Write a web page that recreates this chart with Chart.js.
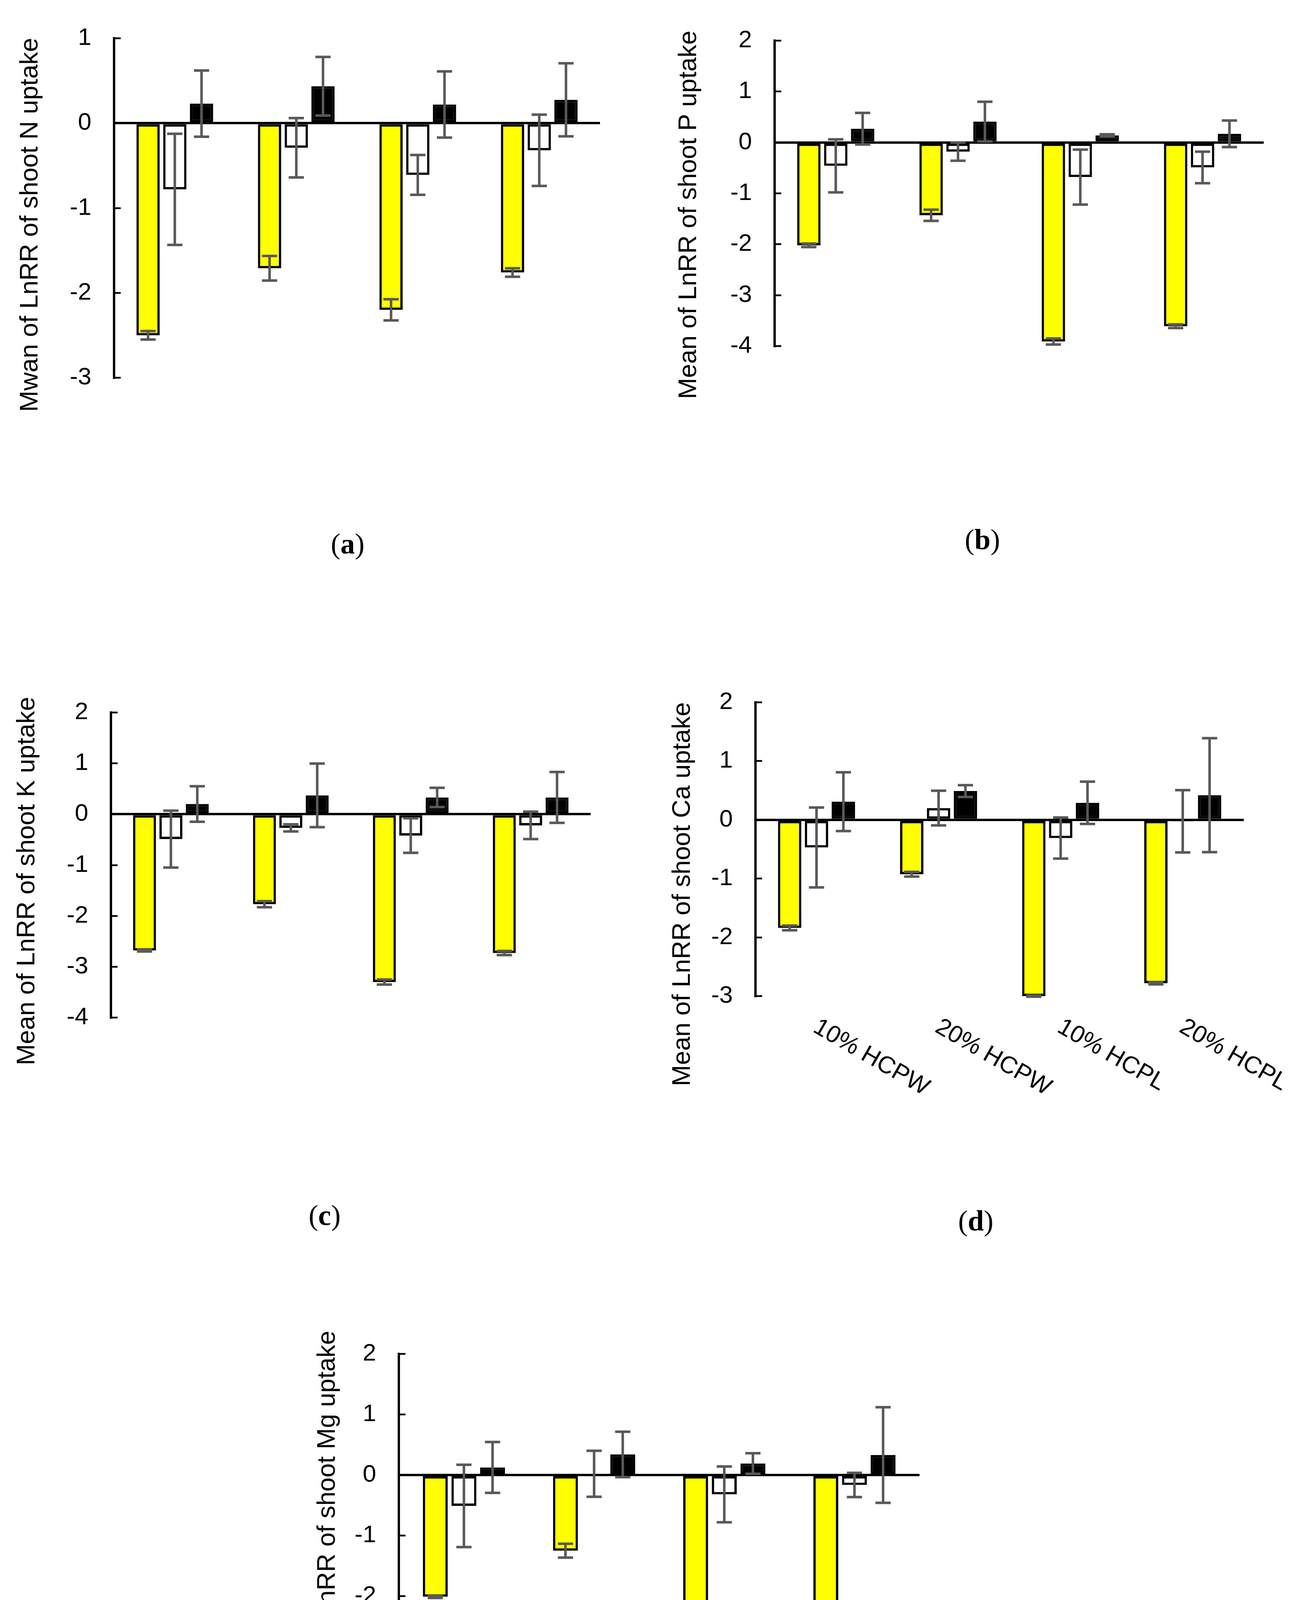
<!DOCTYPE html>
<html>
<head>
<meta charset="utf-8">
<title>Mean LnRR of shoot nutrient uptake</title>
<script src="https://cdn.jsdelivr.net/npm/chart.js@4.4.1/dist/chart.umd.min.js"></script>
<style>
  html, body { margin: 0; padding: 0; background: #fff; }
  body { position: relative; width: 3351px; height: 4904px; overflow: hidden;
         font-family: 'Liberation Sans', Arial, sans-serif; color: #000; }
  canvas { position: absolute; }
  .cap { position: absolute; font-family: 'Liberation Serif', 'Times New Roman', serif;
         font-size: 74px; line-height: 1; transform: translate(-50%, -50%); }
  #legend { position: absolute; left: 907px; top: 4848px; transform: translateY(-50%);
            display: flex; align-items: center; font-size: 65px; line-height: 1; white-space: nowrap; }
  #legend .item { display: flex; align-items: center; margin-right: 80px; }
  #legend .box { width: 40px; height: 40px; box-sizing: border-box; border: 6px solid #000; margin-right: 14px; }
</style>
</head>
<body>

<canvas id="panelA" width="1544" height="1089" style="left:12px;top:28px;width:1544px;height:1089px"></canvas>
<canvas id="panelB" width="1552" height="1002" style="left:1703px;top:34px;width:1552px;height:1002px"></canvas>
<canvas id="panelC" width="1528" height="1001" style="left:4px;top:1754px;width:1528px;height:1001px"></canvas>
<canvas id="panelD" width="1690" height="1122" style="left:1654px;top:1728px;width:1690px;height:1122px"></canvas>
<canvas id="panelE" width="1773" height="1145" style="left:741px;top:3396px;width:1773px;height:1145px"></canvas>

<div class="cap" style="left:890px;top:1392px">(<b>a</b>)</div>
<div class="cap" style="left:2515px;top:1381px">(<b>b</b>)</div>
<div class="cap" style="left:831px;top:3111px">(<b>c</b>)</div>
<div class="cap" style="left:2498px;top:3125px">(<b>d</b>)</div>
<div class="cap" style="left:1737px;top:4727px">(<b>e</b>)</div>

<div id="legend"></div>

<script>
// Categories and series
const categories = ['10% HCPW', '20% HCPW', '10% HCPL', '20% HCPL'];
const seriesLabels = ['No fertilizer', '50% fertilizer', '100% fertilizer'];
const seriesFill = ['#FFFF00', '#FFFFFF', '#000000'];

// (a) N uptake
const nNoFert = [-2.50, -1.71, -2.20, -1.76];
const nHalfFert = [-0.78, -0.29, -0.61, -0.32];
const nFullFert = [0.23, 0.435, 0.22, 0.275];
const nNoFertErr = [0.05, 0.145, 0.125, 0.05];
const nHalfFertErr = [0.655, 0.35, 0.235, 0.42];
const nFullFertErr = [0.39, 0.345, 0.39, 0.43];

// (b) P uptake
const pNoFert = [-2.02, -1.43, -3.91, -3.61];
const pHalfFert = [-0.46, -0.18, -0.68, -0.49];
const pFullFert = [0.27, 0.41, 0.14, 0.17];
const pNoFertErr = [0.035, 0.11, 0.06, 0.035];
const pHalfFertErr = [0.52, 0.18, 0.54, 0.31];
const pFullFertErr = [0.31, 0.39, 0.02, 0.26];

// (c) K uptake
const kNoFert = [-2.68, -1.77, -3.30, -2.73];
const kHalfFert = [-0.49, -0.27, -0.42, -0.22];
const kFullFert = [0.20, 0.37, 0.33, 0.33];
const kNoFertErr = [0.02, 0.06, 0.05, 0.04];
const kHalfFertErr = [0.56, 0.07, 0.34, 0.27];
const kFullFertErr = [0.35, 0.625, 0.19, 0.50];

// (d) Ca uptake
const caNoFert = [-1.84, -0.925, -3.00, -2.78];
const caHalfFert = [-0.47, 0.20, -0.31, -0.025];
const caFullFert = [0.31, 0.49, 0.29, 0.42];
const caNoFertErr = [0.04, 0.04, 0.01, 0.02];
const caHalfFertErr = [0.68, 0.295, 0.35, 0.53];
const caFullFertErr = [0.50, 0.10, 0.36, 0.97];

// (e) Mg uptake
const mgNoFert = [-2.01, -1.25, -3.00, -2.82];
const mgHalfFert = [-0.51, 0.02, -0.32, -0.165];
const mgFullFert = [0.125, 0.34, 0.19, 0.33];
const mgNoFertErr = [0.02, 0.115, 0.01, 0.02];
const mgHalfFertErr = [0.68, 0.38, 0.46, 0.20];
const mgFullFertErr = [0.42, 0.375, 0.17, 0.79];

const FONT = "'Liberation Sans', Arial, sans-serif";
Chart.defaults.font.family = FONT;
Chart.defaults.color = '#000';

// rotated y-axis title, placed relative to the chart area
const yTitlePlugin = {
  id: 'yTitle',
  afterDraw(chart, args, opts) {
    const { ctx, chartArea } = chart;
    ctx.save();
    ctx.translate(chartArea.left - opts.dx, (chartArea.top + chartArea.bottom) / 2 + opts.dy);
    ctx.rotate(-Math.PI / 2);
    ctx.font = '65px ' + FONT;
    ctx.fillStyle = '#000';
    ctx.textAlign = 'center';
    ctx.textBaseline = 'middle';
    ctx.fillText(opts.text, 0, 0);
    ctx.restore();
  }
};

// +/- error bars with caps
const errorBarPlugin = {
  id: 'errorBars',
  afterDatasetsDraw(chart) {
    const { ctx } = chart;
    const y = chart.scales.y;
    ctx.save();
    ctx.strokeStyle = '#595959';
    ctx.lineWidth = 6.5;
    chart.data.datasets.forEach((ds, i) => {
      chart.getDatasetMeta(i).data.forEach((bar, j) => {
        const v = ds.data[j], e = ds.errors[j];
        const yTop = y.getPixelForValue(v + e);
        const yBot = y.getPixelForValue(v - e);
        const half = 19.5;
        ctx.beginPath();
        ctx.moveTo(bar.x, yTop); ctx.lineTo(bar.x, yBot);
        ctx.moveTo(bar.x - half, yTop); ctx.lineTo(bar.x + half, yTop);
        ctx.moveTo(bar.x - half, yBot); ctx.lineTo(bar.x + half, yBot);
        ctx.stroke();
      });
    });
    ctx.restore();
  }
};

// category labels below the plot, slanted down to the right
const slantLabelPlugin = {
  id: 'slantLabels',
  afterDraw(chart, args, opts) {
    if (!opts.show) return;
    const { ctx, chartArea } = chart;
    const x = chart.scales.x;
    ctx.save();
    ctx.font = '62px ' + FONT;
    ctx.fillStyle = '#000';
    ctx.textAlign = 'left';
    ctx.textBaseline = 'top';
    chart.data.labels.forEach((lab, i) => {
      ctx.save();
      ctx.translate(x.getPixelForValue(i) + 12, chartArea.bottom + 48);
      ctx.rotate(Math.PI / 6);
      ctx.fillText(lab, 0, 0);
      ctx.restore();
    });
    ctx.restore();
  }
};

function buildPanel(id, cfg) {
  const datasets = seriesLabels.map((label, k) => ({
    label,
    data: cfg.values[k],
    errors: cfg.errors[k],
    backgroundColor: seriesFill[k],
    borderColor: '#000',
    borderWidth: 6,
    borderSkipped: false,
    categoryPercentage: 0.66,
    barPercentage: 0.87
  }));
  return new Chart(document.getElementById(id), {
    type: 'bar',
    data: { labels: categories, datasets },
    options: {
      responsive: false,
      animation: false,
      events: [],
      layout: { padding: { top: 70, left: 0, right: cfg.padRight, bottom: cfg.padBottom } },
      scales: {
        x: { display: false },
        y: {
          min: cfg.min,
          max: cfg.max,
          afterFit: s => {
            s.width = 280;
            // the wide label gap should not push the plot down
            s.paddingTop = 30;
            s.paddingBottom = 30;
          },
          ticks: { stepSize: 1, padding: 75, font: { size: 62 }, color: '#000' },
          grid: {
            color: c => (c.tick && c.tick.value === 0 ? '#000' : 'rgba(0,0,0,0)'),
            lineWidth: 6,
            tickColor: '#000',
            tickWidth: 4.5,
            tickLength: -17
          },
          border: { display: true, color: '#000', width: 6 }
        }
      },
      plugins: {
        legend: { display: false },
        tooltip: { enabled: false },
        yTitle: { text: cfg.title, dx: cfg.titleDx, dy: cfg.titleDy },
        slantLabels: { show: cfg.xLabels }
      }
    },
    plugins: [yTitlePlugin, errorBarPlugin, slantLabelPlugin]
  });
}

buildPanel('panelA', {
  title: 'Mwan of LnRR of shoot N uptake', min: -3, max: 1,
  values: [nNoFert, nHalfFert, nFullFert], errors: [nNoFertErr, nHalfFertErr, nFullFertErr],
  padRight: 20, padBottom: 150, titleDx: 214, titleDy: 43, xLabels: false
});
buildPanel('panelB', {
  title: 'Mean of LnRR of shoot P uptake', min: -4, max: 2,
  values: [pNoFert, pHalfFert, pFullFert], errors: [pNoFertErr, pHalfFertErr, pFullFertErr],
  padRight: 20, padBottom: 150, titleDx: 219, titleDy: 55, xLabels: false
});
buildPanel('panelC', {
  title: 'Mean of LnRR of shoot K uptake', min: -4, max: 2,
  values: [kNoFert, kHalfFert, kFullFert], errors: [kNoFertErr, kHalfFertErr, kFullFertErr],
  padRight: 20, padBottom: 150, titleDx: 214, titleDy: 41, xLabels: false
});
buildPanel('panelD', {
  title: 'Mean of LnRR of shoot Ca uptake', min: -3, max: 2,
  values: [caNoFert, caHalfFert, caFullFert], errors: [caNoFertErr, caHalfFertErr, caFullFertErr],
  padRight: 160, padBottom: 300, titleDx: 186, titleDy: 115, xLabels: true
});
buildPanel('panelE', {
  title: 'Mean of LnRR of shoot Mg uptake', min: -3, max: 2,
  values: [mgNoFert, mgHalfFert, mgFullFert], errors: [mgNoFertErr, mgHalfFertErr, mgFullFertErr],
  padRight: 160, padBottom: 300, titleDx: 182, titleDy: 48, xLabels: true
});

// shared legend under panel (e)
const legendEl = document.getElementById('legend');
seriesLabels.forEach((label, k) => {
  const item = document.createElement('div');
  item.className = 'item';
  const box = document.createElement('span');
  box.className = 'box';
  box.style.background = seriesFill[k];
  const txt = document.createElement('span');
  txt.textContent = label;
  item.appendChild(box);
  item.appendChild(txt);
  legendEl.appendChild(item);
});
</script>
</body>
</html>
